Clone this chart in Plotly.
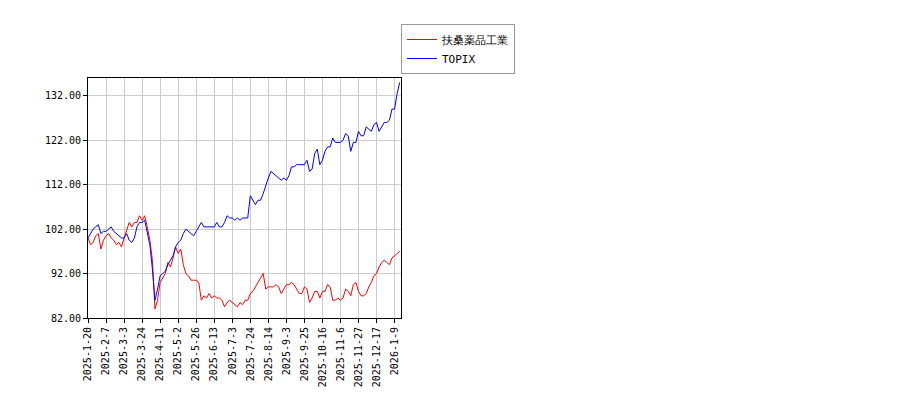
import plotly.graph_objects as go

tick_labels = ["2025-1-20","2025-2-7","2025-3-3","2025-3-24","2025-4-11","2025-5-2","2025-5-26",
               "2025-6-13","2025-7-3","2025-7-24","2025-8-14","2025-9-3","2025-9-25","2025-10-16",
               "2025-11-6","2025-11-27","2025-12-17","2026-1-9"]
tick_pos = [i*14 for i in range(len(tick_labels))]

fuso = [100,98.5,99,100.5,101,97.5,99.5,100.5,101,100,99.5,98.5,99,98,100,102,103.5,102.5,103.5,103.5,
        105,104,105,102.5,99.5,95,84,86,90,91,92,94.5,93.5,95.5,98,96.5,97.5,94,92,91.5,
        90.5,90.5,90.5,90,86,87,86.5,87.5,86.5,87,86.5,86.5,86,84.5,85.5,86,85.5,85,84.5,85.5,
        85,86,86,87.5,88,89,90,91,92,88.5,89,89,89,89.5,89,87.5,88.5,89.5,89.5,90,
        89.5,88.5,87.5,87.5,89,88.5,85.5,86.5,88,88,86.5,88,88,89.5,89,86,86,86.5,86,86.5,
        88.5,88,87,89.5,90,88,87,87,87.5,89,90,91.5,92,93.5,94.5,95,94.5,94,95.5,96,96.5,97]
topix = [100,101,102,102.5,103,101,101.5,101.5,102,102.5,101.5,101,100.5,100,100,101,99.5,99,100,102.5,
         103.5,103.5,104,101,98.5,93,86,88.5,91.5,92,92.5,94,95,96,98,99,99.5,101,102,101.5,
         101,100.5,101.5,102.5,103.5,102.5,102.5,102.5,102.5,102.5,103.5,102.5,102.5,103.5,105,104.5,104.5,104,104.5,104,
         104.5,104.5,104.5,109.5,108.5,107.5,108.5,108.5,110,112,113.5,115,114.5,114,113.5,113,113.5,113,114,116,
         116,116.5,116.5,116.5,116.5,117.5,115,115.5,119,120,116.5,117.5,119.5,120.5,120.5,122.5,121.5,121.5,121.5,122,
         123.5,123,119.5,121.5,121.5,124,123,123,125,124.5,124,125.5,126,124,125,126,126,126.5,129,129,132.5,135]
x = list(range(0, 2*len(fuso), 2))

fig = go.Figure()
fig.add_trace(go.Scatter(x=x, y=fuso, mode="lines", name="扶桑薬品工業", line=dict(color="red", width=1)))
fig.add_trace(go.Scatter(x=x, y=topix, mode="lines", name="TOPIX", line=dict(color="blue", width=1)))
ax = dict(showline=True, linecolor="black", mirror=True, gridcolor="#cccccc", ticks="outside",
          tickcolor="black", ticklen=4, zeroline=False, automargin=False)
fig.update_layout(
    width=900, height=400, margin=dict(l=80, r=79, t=70, b=90),
    plot_bgcolor="white", paper_bgcolor="white",
    font=dict(family="DejaVu Sans Mono", size=10, color="black"),
    legend=dict(x=0.5, xanchor="center", xref="container", y=0.96, yanchor="top", yref="container",
                bordercolor="#999", borderwidth=1, bgcolor="white", font=dict(size=11)),
    showlegend=True,
)
fig.update_xaxes(**ax, tickvals=tick_pos, ticktext=tick_labels, tickangle=-90, range=[0, 243])
fig.update_yaxes(**ax, tickvals=[82,92,102,112,122,132], tickformat=".2f", range=[82, 136])
fig.write_html("out.html")
